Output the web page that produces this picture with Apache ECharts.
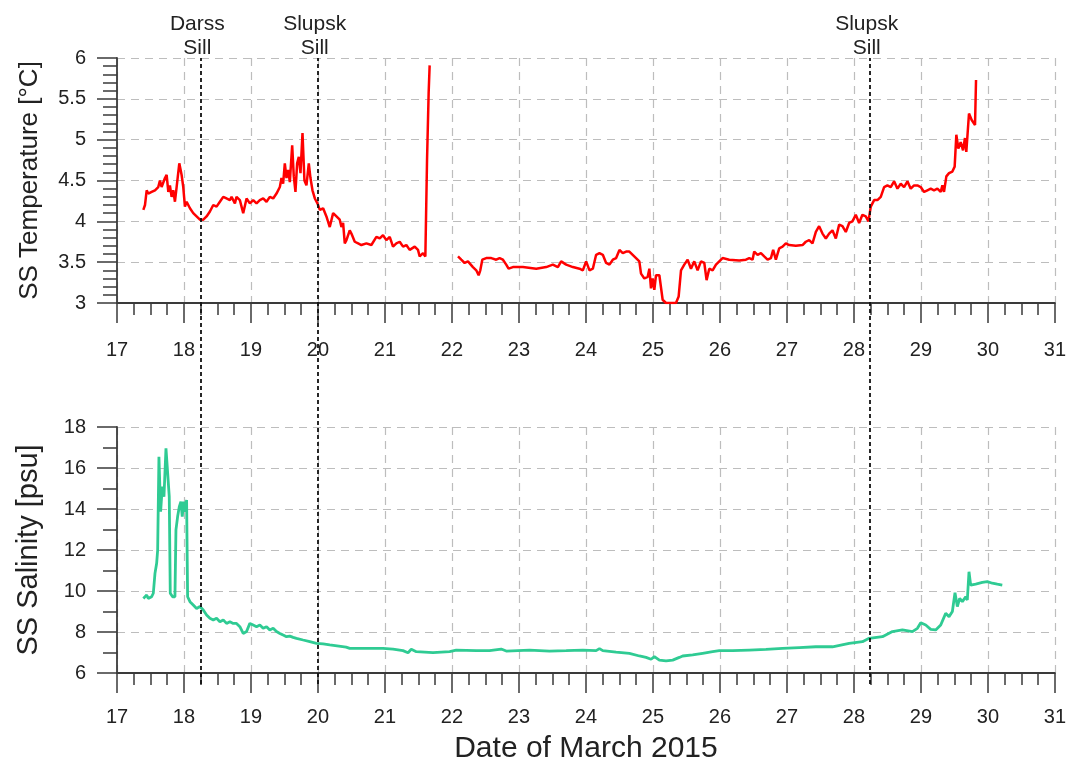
<!DOCTYPE html>
<html>
<head>
<meta charset="utf-8">
<title>Sea surface temperature and salinity, March 2015</title>
<script src="https://cdn.jsdelivr.net/npm/echarts@6/dist/echarts.min.js"></script>
<style>
  html, body { margin: 0; padding: 0; background: #ffffff; }
  #chart { width: 1069px; height: 767px; }
</style>
</head>
<body>
<div id="chart"></div>
<script>
// Sea surface temperature along the track (day of March 2015, °C); null marks the data gap
const tempDay = [
  17.393, 17.418, 17.443, 17.467, 17.517, 17.567, 17.616, 17.641, 17.666, 17.716,
  17.741, 17.766, 17.790, 17.815, 17.840, 17.865, 17.890, 17.930, 17.964, 17.989,
  18.014, 18.039, 18.089, 18.138, 18.188, 18.238, 18.288, 18.337, 18.387, 18.437,
  18.486, 18.536, 18.586, 18.635, 18.685, 18.710, 18.760, 18.784, 18.834, 18.884,
  18.934, 18.983, 19.033, 19.083, 19.132, 19.182, 19.232, 19.281, 19.331, 19.381,
  19.431, 19.455, 19.480, 19.505, 19.530, 19.555, 19.580, 19.615, 19.639, 19.664,
  19.689, 19.714, 19.739, 19.769, 19.798, 19.828, 19.863, 19.888, 19.918, 19.953,
  19.992, 20.027, 20.077, 20.126, 20.176, 20.226, 20.276, 20.325, 20.350, 20.375,
  20.400, 20.425, 20.474, 20.499, 20.549, 20.599, 20.648, 20.723, 20.797, 20.872,
  20.922, 20.971, 21.021, 21.071, 21.120, 21.170, 21.220, 21.270, 21.319, 21.369,
  21.444, 21.493, 21.518, 21.568, 21.603, 21.628, 21.652, 21.667,
  21.880,
  22.090, 22.139, 22.189, 22.239, 22.313, 22.363, 22.398, 22.423, 22.453, 22.512,
  22.587, 22.661, 22.711, 22.761, 22.810, 22.845, 22.910, 23.059, 23.258, 23.407,
  23.506, 23.581, 23.630, 23.705, 23.805, 23.904, 23.954, 24.003, 24.053, 24.103,
  24.152, 24.202, 24.252, 24.301, 24.351, 24.401, 24.451, 24.500, 24.550, 24.600,
  24.648, 24.698, 24.748, 24.797, 24.822, 24.872, 24.922, 24.947, 24.971, 24.996,
  25.021, 25.046, 25.096, 25.120, 25.145, 25.195, 25.270, 25.344, 25.384, 25.419,
  25.468, 25.518, 25.568, 25.617, 25.667, 25.717, 25.767, 25.801, 25.841, 25.891,
  25.941, 25.990, 26.040, 26.139, 26.288, 26.388, 26.438, 26.487, 26.512, 26.562,
  26.612, 26.661, 26.711, 26.761, 26.795, 26.835, 26.885, 26.935, 26.984, 27.034,
  27.133, 27.233, 27.282, 27.332, 27.382, 27.432, 27.481, 27.531, 27.581, 27.630,
  27.680, 27.730, 27.780, 27.829, 27.879, 27.929, 27.978, 28.028, 28.078, 28.127,
  28.177, 28.217, 28.252, 28.302, 28.351, 28.401, 28.451, 28.500, 28.550, 28.600,
  28.650, 28.699, 28.749, 28.799, 28.848, 28.898, 28.948, 28.997, 29.047, 29.097,
  29.147, 29.196, 29.246, 29.296, 29.321, 29.345, 29.380, 29.420, 29.470, 29.504,
  29.529, 29.559, 29.594, 29.629, 29.658, 29.678, 29.718, 29.758, 29.808, 29.823
];
const tempVal = [
  4.14, 4.20, 4.38, 4.34, 4.36, 4.38, 4.42, 4.50, 4.42, 4.53,
  4.57, 4.36, 4.44, 4.30, 4.38, 4.24, 4.42, 4.71, 4.57, 4.42,
  4.18, 4.24, 4.16, 4.10, 4.06, 4.02, 4.02, 4.06, 4.12, 4.20,
  4.18, 4.24, 4.30, 4.28, 4.26, 4.30, 4.22, 4.30, 4.26, 4.10,
  4.28, 4.22, 4.26, 4.22, 4.26, 4.28, 4.24, 4.30, 4.28, 4.34,
  4.42, 4.53, 4.46, 4.71, 4.53, 4.63, 4.48, 4.93, 4.55, 4.36,
  4.71, 4.79, 4.59, 5.08, 4.50, 4.44, 4.71, 4.53, 4.38, 4.28,
  4.22, 4.14, 4.16, 4.06, 3.93, 4.10, 4.06, 4.02, 3.93, 3.98,
  3.73, 3.77, 3.89, 3.85, 3.75, 3.73, 3.71, 3.73, 3.71, 3.81,
  3.79, 3.83, 3.77, 3.81, 3.69, 3.73, 3.75, 3.69, 3.71, 3.65,
  3.69, 3.65, 3.57, 3.61, 3.57, 4.75, 5.57, 5.91,
  null,
  3.57, 3.53, 3.49, 3.51, 3.44, 3.40, 3.34, 3.40, 3.53, 3.55,
  3.55, 3.53, 3.55, 3.53, 3.47, 3.42, 3.44, 3.44, 3.42, 3.44,
  3.47, 3.44, 3.51, 3.47, 3.44, 3.42, 3.40, 3.51, 3.40, 3.42,
  3.59, 3.61, 3.59, 3.49, 3.47, 3.53, 3.55, 3.65, 3.61, 3.63,
  3.63, 3.59, 3.55, 3.51, 3.36, 3.30, 3.32, 3.42, 3.18, 3.30,
  3.16, 3.34, 3.34, 3.32, 3.04, 3.00, 3.00, 3.00, 3.08, 3.40,
  3.47, 3.53, 3.42, 3.51, 3.40, 3.51, 3.49, 3.28, 3.42, 3.40,
  3.47, 3.51, 3.55, 3.53, 3.52, 3.53, 3.55, 3.53, 3.63, 3.59,
  3.61, 3.57, 3.53, 3.55, 3.65, 3.53, 3.67, 3.69, 3.73, 3.71,
  3.70, 3.71, 3.75, 3.77, 3.73, 3.87, 3.94, 3.85, 3.79, 3.85,
  3.89, 3.79, 3.96, 3.94, 3.87, 3.98, 4.00, 4.08, 3.98, 4.08,
  4.06, 4.00, 4.18, 4.26, 4.26, 4.30, 4.42, 4.44, 4.42, 4.49,
  4.40, 4.46, 4.42, 4.49, 4.40, 4.44, 4.44, 4.42, 4.36, 4.38,
  4.40, 4.38, 4.40, 4.36, 4.44, 4.36, 4.55, 4.59, 4.61, 4.67,
  5.06, 4.89, 4.97, 4.87, 5.02, 4.85, 5.32, 5.24, 5.18, 5.73
];

// Sea surface salinity along the track (day of March 2015, psu)
const salDay = [
  17.393, 17.443, 17.467, 17.517, 17.542, 17.567, 17.592, 17.607, 17.626, 17.651,
  17.676, 17.701, 17.731, 17.756, 17.780, 17.795, 17.830, 17.865, 17.880, 17.905,
  17.930, 17.954, 17.974, 17.994, 18.019, 18.039, 18.054, 18.089, 18.138, 18.188,
  18.238, 18.288, 18.337, 18.387, 18.437, 18.486, 18.536, 18.586, 18.635, 18.685,
  18.735, 18.784, 18.834, 18.884, 18.934, 18.983, 19.033, 19.083, 19.132, 19.182,
  19.232, 19.281, 19.331, 19.381, 19.431, 19.480, 19.530, 19.580, 19.629, 19.679,
  19.778, 19.878, 19.977, 20.077, 20.176, 20.420, 20.474, 20.971, 21.120, 21.269,
  21.344, 21.393, 21.468, 21.717, 21.965, 22.064, 22.363, 22.561, 22.735, 22.810,
  23.158, 23.456, 23.705, 23.953, 24.152, 24.202, 24.251, 24.450, 24.649, 24.798,
  24.897, 24.972, 25.022, 25.096, 25.196, 25.295, 25.394, 25.444, 25.593, 25.742,
  25.891, 25.991, 26.190, 26.438, 26.687, 26.935, 27.184, 27.432, 27.681, 27.929,
  28.128, 28.227, 28.426, 28.575, 28.724, 28.873, 28.948, 28.998, 29.072, 29.147,
  29.221, 29.296, 29.370, 29.420, 29.470, 29.509, 29.544, 29.579, 29.619, 29.669,
  29.693, 29.718, 29.743, 29.818, 29.917, 29.992, 30.066, 30.141, 30.215
];
const salVal = [
  9.64, 9.80, 9.64, 9.72, 9.89, 10.86, 11.35, 12.00, 16.55, 13.87,
  15.09, 14.60, 16.96, 16.88, 14.60, 9.89, 9.72, 9.72, 12.98, 13.63,
  14.11, 14.36, 13.63, 14.36, 13.87, 14.44, 9.72, 9.48, 9.32, 9.15,
  9.24, 9.07, 8.83, 8.67, 8.59, 8.67, 8.50, 8.59, 8.42, 8.50,
  8.42, 8.42, 8.26, 7.93, 8.02, 8.42, 8.34, 8.26, 8.34, 8.18,
  8.26, 8.10, 8.18, 8.02, 7.93, 7.85, 7.77, 7.80, 7.74, 7.69,
  7.61, 7.53, 7.45, 7.42, 7.37, 7.26, 7.20, 7.20, 7.16, 7.09,
  6.99, 7.16, 7.04, 6.99, 7.04, 7.12, 7.09, 7.09, 7.17, 7.07,
  7.12, 7.07, 7.09, 7.12, 7.09, 7.19, 7.09, 7.02, 6.96, 6.83,
  6.76, 6.67, 6.80, 6.63, 6.59, 6.63, 6.76, 6.83, 6.88, 6.96,
  7.04, 7.09, 7.09, 7.12, 7.15, 7.20, 7.24, 7.28, 7.28, 7.45,
  7.53, 7.69, 7.77, 8.02, 8.10, 8.02, 8.18, 8.45, 8.34, 8.13,
  8.10, 8.34, 8.91, 8.75, 9.00, 9.92, 9.24, 9.64, 9.48, 9.72,
  9.56, 10.94, 10.29, 10.34, 10.42, 10.46, 10.38, 10.33, 10.29
];

// Sill crossings marked with vertical dashed lines
const sillDays = [18.25, 20.0, 28.23];
const sillNames = ['Darss\nSill', 'Slupsk\nSill', 'Slupsk\nSill'];

const FONT = '"Liberation Sans", Arial, Helvetica, sans-serif';
const INK = '#222222';
const AXIS = '#3a3a3a';
const GRID_LINE = { show: true, lineStyle: { color: '#bdbdbd', type: [8, 6], width: 1.2 } };

const pairs = (xs, ys) => xs.map((x, i) => [x, ys[i]]);

function dayAxis(gridIndex, margin) {
  return {
    type: 'value', gridIndex: gridIndex, min: 17, max: 31, interval: 1,
    axisLine: { show: true, onZero: false, lineStyle: { color: AXIS, width: 1.8 } },
    axisTick: { show: true, inside: false, length: 20, lineStyle: { color: AXIS, width: 1.5 } },
    minorTick: { show: true, splitNumber: 4, length: 12, lineStyle: { color: AXIS, width: 1.5 } },
    axisLabel: { margin: margin, color: INK, fontSize: 20, fontFamily: FONT },
    splitLine: GRID_LINE
  };
}

function valueAxis(gridIndex, min, max, interval, minorSplit, name, nameSize) {
  return {
    type: 'value', gridIndex: gridIndex, min: min, max: max, interval: interval,
    name: name, nameLocation: 'middle', nameGap: 74, nameRotate: 90,
    nameTextStyle: { color: INK, fontSize: nameSize, fontFamily: FONT },
    axisLine: { show: true, onZero: false, lineStyle: { color: AXIS, width: 1.8 } },
    axisTick: { show: true, inside: false, length: 20, lineStyle: { color: AXIS, width: 1.5 } },
    minorTick: { show: true, splitNumber: minorSplit, length: 14, lineStyle: { color: AXIS, width: 1.5 } },
    axisLabel: { margin: 31, color: INK, fontSize: 20, fontFamily: FONT },
    splitLine: GRID_LINE
  };
}

const chart = echarts.init(document.getElementById('chart'), null, { renderer: 'canvas' });

const bottomDayAxis = dayAxis(1, 34);
bottomDayAxis.name = 'Date of March 2015';
bottomDayAxis.nameLocation = 'middle';
bottomDayAxis.nameGap = 61;
bottomDayAxis.nameTextStyle = { color: INK, fontSize: 30, fontFamily: FONT };

chart.setOption({
  animation: false,
  backgroundColor: '#ffffff',
  grid: [
    { left: 117, top: 58, width: 939, height: 245 },
    { left: 117, top: 427, width: 939, height: 246 },
    { left: 117, top: 58, width: 939, height: 626 }
  ],
  xAxis: [
    dayAxis(0, 37),
    bottomDayAxis,
    { type: 'value', gridIndex: 2, min: 17, max: 31, show: false }
  ],
  yAxis: [
    valueAxis(0, 3, 6, 0.5, 5, 'SS Temperature [°C]', 26),
    valueAxis(1, 6, 18, 2, 2, 'SS Salinity [psu]', 29),
    { type: 'value', gridIndex: 2, min: 0, max: 1, show: false }
  ],
  series: [
    {
      name: 'SS Temperature', type: 'line', xAxisIndex: 0, yAxisIndex: 0,
      data: pairs(tempDay, tempVal), showSymbol: false, connectNulls: false,
      lineStyle: { color: '#ff0000', width: 2.5 }, itemStyle: { color: '#ff0000' },
      clip: true, z: 3
    },
    {
      name: 'SS Salinity', type: 'line', xAxisIndex: 1, yAxisIndex: 1,
      data: pairs(salDay, salVal), showSymbol: false,
      lineStyle: { color: '#2fcb93', width: 2.8 }, itemStyle: { color: '#2fcb93' },
      clip: true, z: 3
    },
    {
      name: 'Sills', type: 'line', xAxisIndex: 2, yAxisIndex: 2, data: [],
      silent: true, z: 4,
      markLine: {
        silent: true, symbol: 'none', animation: false,
        lineStyle: { color: '#111111', type: [4, 3], width: 1.8 },
        label: {
          show: true, position: 'end', distance: -2,
          formatter: (p) => p.name,
          color: INK, fontSize: 21, lineHeight: 24, fontFamily: FONT,
          align: 'center', padding: [0, 7, 0, 0]
        },
        data: sillDays.map((d, i) => ({ xAxis: d, name: sillNames[i] }))
      }
    }
  ]
});
</script>
</body>
</html>
